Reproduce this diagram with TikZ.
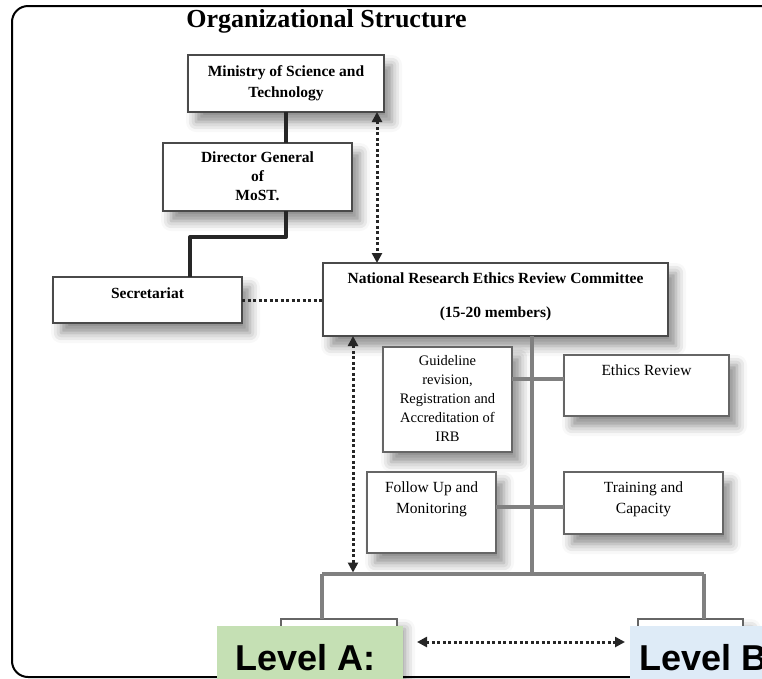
\documentclass[tikz,border=0pt]{standalone}
\usepackage{fontspec}
\setmainfont{Liberation Serif}
\newfontfamily\levfont{Liberation Sans}
\usetikzlibrary{arrows.meta,shadows.blur}
\definecolor{boxline}{HTML}{4A4A4A}
\definecolor{conn}{HTML}{808080}
\definecolor{dark}{HTML}{262626}
\definecolor{lvA}{HTML}{C5E0B4}
\definecolor{lvB}{HTML}{DEEBF7}
\tikzset{
  orgbox/.style={draw=boxline, line width=1.2pt, fill=white, inner sep=0pt, outer sep=0pt, anchor=north west,
    blur shadow={shadow xshift=8pt, shadow yshift=-10pt, shadow blur radius=10pt, shadow opacity=45}},
  lowbox/.style={orgbox, draw=conn!80!black},
  levbox/.style={fill=#1, draw=none, inner sep=0pt, anchor=north west},
  boldtxt/.style={font=\fontsize{15.5}{21}\selectfont\bfseries, align=center, inner sep=0pt, anchor=base},
  regtxt/.style={font=\fontsize{15.5}{21}\selectfont, align=center, inner sep=0pt, anchor=base},
  levtxt/.style={font=\levfont\bfseries\fontsize{36}{40}\selectfont, inner sep=0pt, anchor=base west},
  thickconn/.style={draw=dark, line width=4pt},
  grayconn/.style={draw=conn, line width=3.5pt},
  dotconn/.style={draw=dark, line width=3pt, dash pattern=on 3pt off 2.5pt},
  dtip/.tip={Triangle[length=10pt,width=10pt]},
}
\begin{document}
\begin{tikzpicture}[x=1pt,y=-1pt]
\useasboundingbox (0,0) rectangle (762,678);
% frame
\draw[line width=2pt, rounded corners=16pt] (790,6) -- (12,6) -- (12,677) -- (790,677);
% title
\node[font=\fontsize{26}{30}\selectfont\bfseries, inner sep=0pt, anchor=base] (title) at (326.5,27) {Organizational Structure};
% boxes
\node[orgbox, minimum width=196pt, minimum height=57pt] (mins) at (188,55) {};
\node[orgbox, minimum width=189pt, minimum height=68pt] (dg) at (163,143) {};
\node[orgbox, minimum width=189pt, minimum height=46pt] (sec) at (53,277) {};
\node[orgbox, minimum width=345pt, minimum height=73pt] (nrec) at (323,263) {};
\node[lowbox, minimum width=129pt, minimum height=105pt] (guide) at (383,347) {};
\node[lowbox, minimum width=165pt, minimum height=61pt] (ethics) at (564,355) {};
\node[lowbox, minimum width=129pt, minimum height=81pt] (follow) at (367,472) {};
\node[lowbox, minimum width=159pt, minimum height=62pt] (train) at (564,472) {};
\node[lowbox, minimum width=116pt, minimum height=70pt] (boxA) at (281,619) {};
\node[lowbox, minimum width=105pt, minimum height=70pt] (boxB) at (638,619) {};
% texts (anchor base = last line baseline)
\node[boldtxt] (mins-t) at (286,97) {Ministry of Science and\\Technology};
\node[boldtxt, font=\fontsize{15.5}{19}\selectfont\bfseries] (dg-t) at (257.5,200) {Director General\\of\\MoST.};
\node[boldtxt] (sec-t) at (147.5,298) {Secretariat};
\node[boldtxt, font=\fontsize{15.5}{34}\selectfont\bfseries] (nrec-t) at (495.5,317) {National Research Ethics Review Committee\\(15-20 members)};
\node[regtxt, font=\fontsize{14.5}{19}\selectfont] (guide-t) at (447.5,441) {Guideline\\revision,\\Registration and\\Accreditation of\\IRB};
\node[regtxt] (ethics-t) at (646.5,375) {Ethics Review};
\node[regtxt] (follow-t) at (431.5,513) {Follow Up and\\Monitoring};
\node[regtxt] (train-t) at (643.5,513) {Training and\\Capacity};
% coordinates
\coordinate (elbow1) at (286,237);
\coordinate (elbow2) at (190,237);
\coordinate (dvx) at (377,0);
\coordinate (dv2) at (353,0);
\coordinate (spine) at (532,574);
\coordinate (busL) at (322,574);
\coordinate (busR) at (704,574);
\coordinate (gy) at (0,379);
\coordinate (fy) at (0,507);
\coordinate (la) at (417,642);
\coordinate (lb) at (625,642);
% thick connectors
\draw[thickconn] (mins.south) -- (dg.north -| mins.south);
\draw[thickconn, line join=round] (dg.south -| elbow1) -- (elbow1) -- (elbow2) -- (sec.north -| elbow2);
% dotted connectors
\draw[dotconn] (sec.east) -- (nrec.west |- sec.east);
\draw[dotconn, dtip-dtip] (mins.south -| dvx) -- (nrec.north -| dvx);
\draw[dotconn, dtip-dtip] (nrec.south -| dv2) -- ([yshift=1.5pt]busL -| dv2);
% gray connectors
\draw[grayconn] (nrec.south -| spine) -- (spine);
\draw[grayconn] (guide.east |- gy) -- (ethics.west |- gy);
\draw[grayconn] (follow.east |- fy) -- (train.west |- fy);
\draw[grayconn] (busL) -- (busR);
\draw[grayconn] (busL) -- (boxA.north -| busL);
\draw[grayconn] (busR) -- (boxB.north -| busR);
% level boxes
\node[levbox=lvA, minimum width=186pt, minimum height=60pt] (levA) at (217,626) {};
\node[levbox=lvB, minimum width=140pt, minimum height=60pt] (levB) at (630,626) {};
\node[levtxt] (levA-t) at (235,670) {Level A:};
\node[levtxt] (levB-t) at (639,670) {Level B};
\draw[dotconn, dtip-dtip] (la) -- (lb);
\end{tikzpicture}
\end{document}
